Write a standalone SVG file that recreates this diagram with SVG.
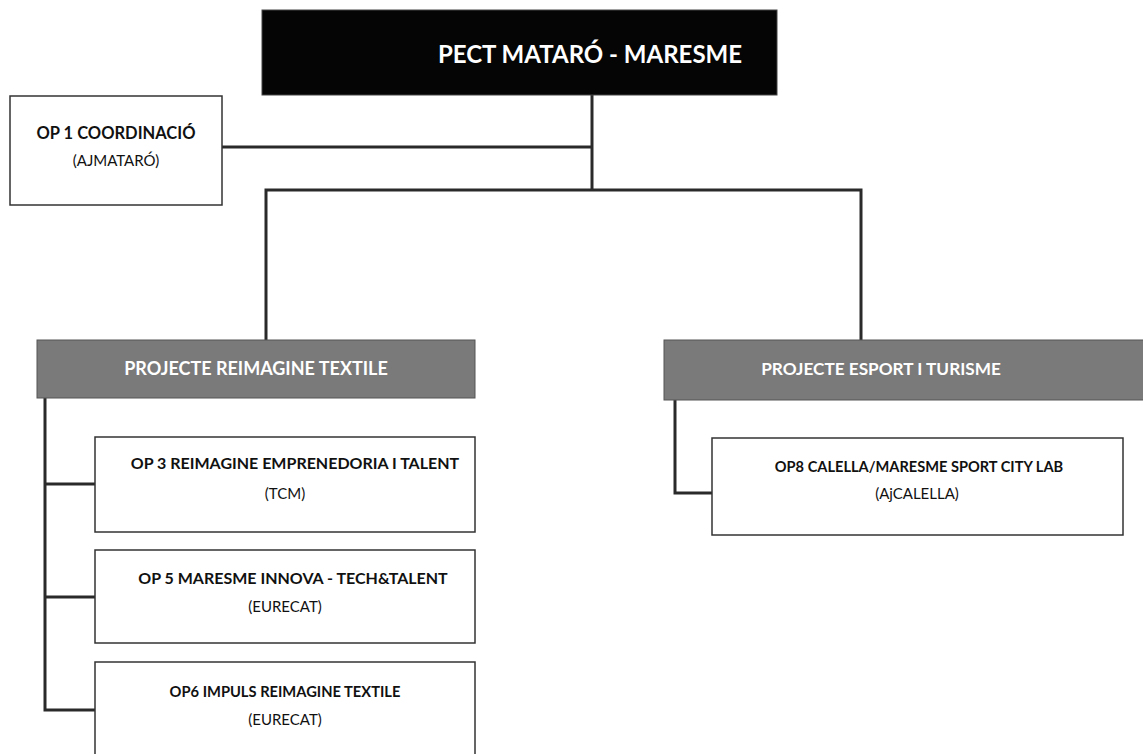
<svg xmlns="http://www.w3.org/2000/svg" width="1143" height="754" viewBox="0 0 1143 754">
<style>
.box{fill:#fff;stroke:#333;stroke-width:1.5}
.grey{fill:#7a7a7a;stroke:#555;stroke-width:1}
.blk{fill:#050505;stroke:#444;stroke-width:1}
.conn{fill:none;stroke:#2a2a2a;stroke-width:3}
.t{font-family:Lato,"Open Sans","Liberation Sans",sans-serif;font-weight:bold;fill:#111;text-anchor:middle}
.s{font-family:Lato,"Open Sans","Liberation Sans",sans-serif;font-weight:normal;fill:#111;text-anchor:middle;font-size:15px}
.tw{font-family:Lato,"Open Sans","Liberation Sans",sans-serif;font-weight:bold;fill:#fff;text-anchor:middle}
</style>
<rect width="1143" height="754" fill="#fff"/>
<g id="connectors">
<path class="conn" d="M592 95 V190"/>
<path class="conn" d="M222 147 H592"/>
<path class="conn" d="M266 340 V190 H861 V340"/>
<path class="conn" d="M45 398 V710 H95"/>
<path class="conn" d="M45 484 H95"/>
<path class="conn" d="M45 597 H95"/>
<path class="conn" d="M675 400 V493 H712"/>
</g>
<g id="pect">
<rect class="blk" x="262" y="10" width="515" height="85"/>
<text class="tw" x="590" y="63" font-size="24">PECT MATARÓ - MARESME</text>
</g>
<g id="op1">
<rect class="box" x="10" y="96" width="212" height="109"/>
<text class="t" x="116" y="139" font-size="16.5">OP 1 COORDINACIÓ</text>
<text class="s" x="116" y="166" font-size="16">(AJMATARÓ)</text>
</g>
<g id="textile">
<rect class="grey" x="37" y="340" width="438" height="58"/>
<text class="tw" x="256" y="375" font-size="18">PROJECTE REIMAGINE TEXTILE</text>
</g>
<g id="esport">
<rect class="grey" x="664" y="340" width="485" height="60"/>
<text class="tw" x="881" y="375" font-size="17.2">PROJECTE ESPORT I TURISME</text>
</g>
<g id="op3">
<rect class="box" x="95" y="437" width="380" height="95"/>
<text class="t" x="295" y="469" font-size="16">OP 3 REIMAGINE EMPRENEDORIA I TALENT</text>
<text class="s" x="285" y="499">(TCM)</text>
</g>
<g id="op5">
<rect class="box" x="95" y="550" width="380" height="93"/>
<text class="t" x="293" y="584" font-size="16">OP 5 MARESME INNOVA - TECH&amp;TALENT</text>
<text class="s" x="285" y="612">(EURECAT)</text>
</g>
<g id="op6">
<rect class="box" x="95" y="662" width="380" height="100"/>
<text class="t" x="285" y="697" font-size="14.7">OP6 IMPULS REIMAGINE TEXTILE</text>
<text class="s" x="285" y="725">(EURECAT)</text>
</g>
<g id="op8">
<rect class="box" x="712" y="438" width="411" height="97"/>
<text class="t" x="919" y="472" font-size="14.6">OP8 CALELLA/MARESME SPORT CITY LAB</text>
<text class="s" x="917" y="499">(AjCALELLA)</text>
</g>
</svg>
